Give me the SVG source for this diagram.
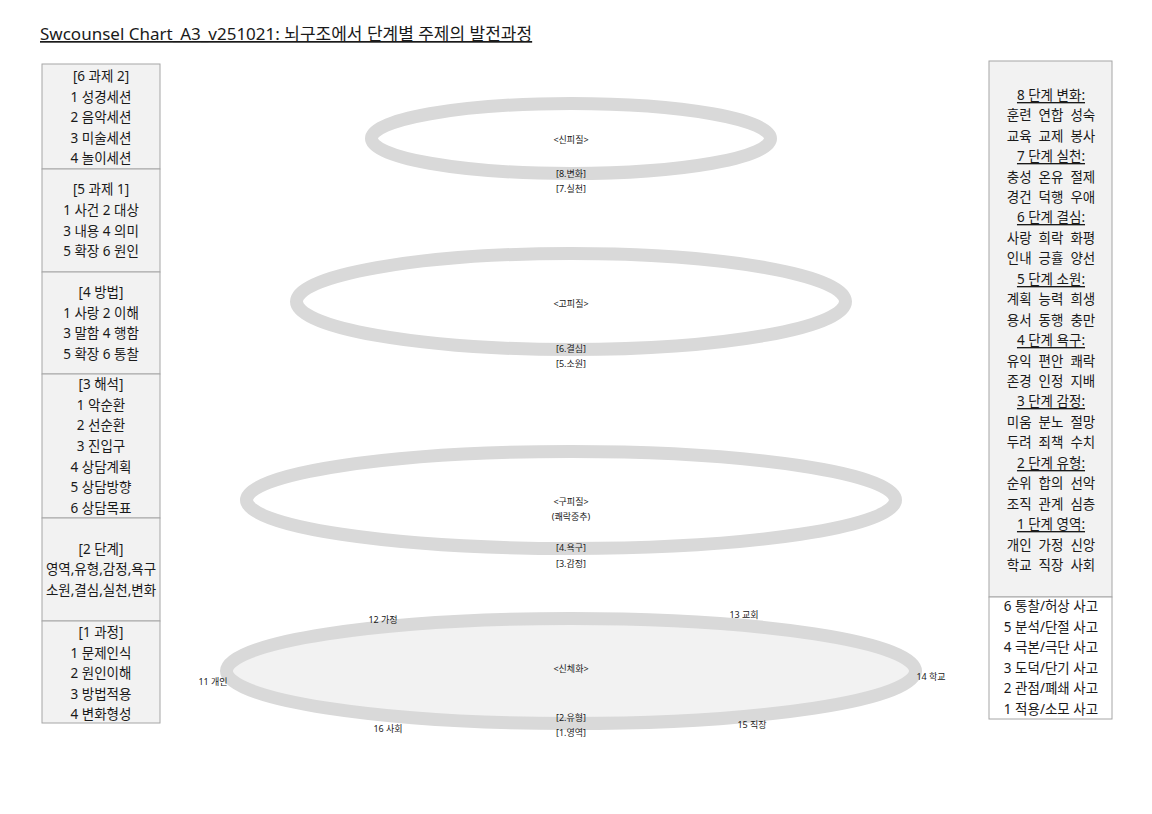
<svg xmlns="http://www.w3.org/2000/svg" width="1152" height="814" viewBox="0 0 1152 814">
<style>
text{font-family:"Noto Sans","Noto Sans CJK KR","DejaVu Sans",sans-serif;fill:#1a1a1a;}
.t{font-size:13.5px;text-anchor:middle;dominant-baseline:central;white-space:pre;}
.u{text-decoration:underline;}
.s{font-size:9px;text-anchor:middle;dominant-baseline:central;}
.box{fill:#f2f2f2;stroke:#a6a6a6;stroke-width:1;}
.boxw{fill:#ffffff;stroke:#a6a6a6;stroke-width:1;}
.ring{stroke:#d9d9d9;stroke-width:13;}
</style>
<rect width="1152" height="814" fill="#ffffff"/>
<text x="40" y="40" style="font-size:17px" class="u">Swcounsel Chart_A3_v251021: 뇌구조에서 단계별 주제의 발전과정</text>

<g id="connectors"></g>

<g id="ring-4">
<ellipse class="ring" cx="571" cy="671" rx="344.5" ry="52.5" fill="#f2f2f2"/>
<text class="s" x="571" y="668">&lt;신체화&gt;</text>
<text class="s" x="571" y="717">[2.유형]</text>
<text class="s" x="571" y="732">[1.영역]</text>
<text class="s" x="383" y="619">12 가정</text>
<text class="s" x="744" y="614">13 교회</text>
<text class="s" x="213" y="681">11 개인</text>
<text class="s" x="931" y="676">14 학교</text>
<text class="s" x="388" y="728">16 사회</text>
<text class="s" x="752" y="724">15 직장</text>
</g>
<g id="ring-3">
<ellipse class="ring" cx="571" cy="500" rx="324.5" ry="48.5" fill="#ffffff"/>
<text class="s" x="571" y="501">&lt;구피질&gt;</text>
<text class="s" x="571" y="516">(쾌락중추)</text>
<text class="s" x="571" y="547">[4.욕구]</text>
<text class="s" x="571" y="563">[3.감정]</text>
</g>
<g id="ring-2">
<ellipse class="ring" cx="571" cy="301.5" rx="274.5" ry="48" fill="#ffffff"/>
<text class="s" x="571" y="303">&lt;고피질&gt;</text>
<text class="s" x="571" y="348">[6.결심]</text>
<text class="s" x="571" y="363">[5.소원]</text>
</g>
<g id="ring-1">
<ellipse class="ring" cx="571" cy="138.5" rx="199.5" ry="35" fill="#ffffff"/>
<text class="s" x="571" y="139">&lt;신피질&gt;</text>
<text class="s" x="571" y="173">[8.변화]</text>
<text class="s" x="571" y="188">[7.실천]</text>
</g>

<g id="left-6">
<rect class="box" x="42" y="64" width="118" height="105"/>
<text class="t" x="101" y="76">[6 과제 2]</text>
<text class="t" x="101" y="97">1 성경세션</text>
<text class="t" x="101" y="117">2 음악세션</text>
<text class="t" x="101" y="138">3 미술세션</text>
<text class="t" x="101" y="158">4 놀이세션</text>
</g>
<g id="left-5">
<rect class="box" x="42" y="169" width="118" height="103"/>
<text class="t" x="101" y="189">[5 과제 1]</text>
<text class="t" x="101" y="210">1 사건 2 대상</text>
<text class="t" x="101" y="231">3 내용 4 의미</text>
<text class="t" x="101" y="251">5 확장 6 원인</text>
</g>
<g id="left-4">
<rect class="box" x="42" y="272" width="118" height="102"/>
<text class="t" x="101" y="292">[4 방법]</text>
<text class="t" x="101" y="313">1 사랑 2 이해</text>
<text class="t" x="101" y="333">3 말함 4 행함</text>
<text class="t" x="101" y="354">5 확장 6 통찰</text>
</g>
<g id="left-3">
<rect class="box" x="42" y="374" width="118" height="144"/>
<text class="t" x="101" y="384">[3 해석]</text>
<text class="t" x="101" y="405">1 악순환</text>
<text class="t" x="101" y="425">2 선순환</text>
<text class="t" x="101" y="446">3 진입구</text>
<text class="t" x="101" y="467">4 상담계획</text>
<text class="t" x="101" y="487">5 상담방향</text>
<text class="t" x="101" y="508">6 상담목표</text>
</g>
<g id="left-2">
<rect class="box" x="42" y="518" width="118" height="103"/>
<text class="t" x="101" y="549">[2 단계]</text>
<text class="t" x="101" y="569">영역,유형,감정,욕구</text>
<text class="t" x="101" y="590">소원,결심,실천,변화</text>
</g>
<g id="left-1">
<rect class="box" x="42" y="621" width="118" height="102"/>
<text class="t" x="101" y="632">[1 과정]</text>
<text class="t" x="101" y="653">1 문제인식</text>
<text class="t" x="101" y="673">2 원인이해</text>
<text class="t" x="101" y="694">3 방법적용</text>
<text class="t" x="101" y="714">4 변화형성</text>
</g>

<g id="right-stages">
<rect class="box" x="989" y="61" width="123" height="536"/>
<text class="t u" x="1051" y="95">8 단계 변화:</text>
<text class="t" x="1051" y="115">훈련  연합  성숙</text>
<text class="t" x="1051" y="136">교육  교제  봉사</text>
<text class="t u" x="1051" y="156">7 단계 실천:</text>
<text class="t" x="1051" y="177">충성  온유  절제</text>
<text class="t" x="1051" y="197">경건  덕행  우애</text>
<text class="t u" x="1051" y="217">6 단계 결심:</text>
<text class="t" x="1051" y="238">사랑  희락  화평</text>
<text class="t" x="1051" y="258">인내  긍휼  양선</text>
<text class="t u" x="1051" y="279">5 단계 소원:</text>
<text class="t" x="1051" y="299">계획  능력  희생</text>
<text class="t" x="1051" y="320">용서  동행  충만</text>
<text class="t u" x="1051" y="340">4 단계 욕구:</text>
<text class="t" x="1051" y="361">유익  편안  쾌락</text>
<text class="t" x="1051" y="381">존경  인정  지배</text>
<text class="t u" x="1051" y="401">3 단계 감정:</text>
<text class="t" x="1051" y="422">미움  분노  절망</text>
<text class="t" x="1051" y="442">두려  죄책  수치</text>
<text class="t u" x="1051" y="463">2 단계 유형:</text>
<text class="t" x="1051" y="483">순위  합의  선악</text>
<text class="t" x="1051" y="504">조직  관계  심층</text>
<text class="t u" x="1051" y="524">1 단계 영역:</text>
<text class="t" x="1051" y="545">개인  가정  신앙</text>
<text class="t" x="1051" y="565">학교  직장  사회</text>
</g>
<g id="right-thinking">
<rect class="boxw" x="989" y="597" width="123" height="122"/>
<text class="t" x="1051" y="606">6 통찰/허상 사고</text>
<text class="t" x="1051" y="627">5 분석/단절 사고</text>
<text class="t" x="1051" y="647">4 극본/극단 사고</text>
<text class="t" x="1051" y="668">3 도덕/단기 사고</text>
<text class="t" x="1051" y="688">2 관점/폐쇄 사고</text>
<text class="t" x="1051" y="709">1 적용/소모 사고</text>
</g>
</svg>
